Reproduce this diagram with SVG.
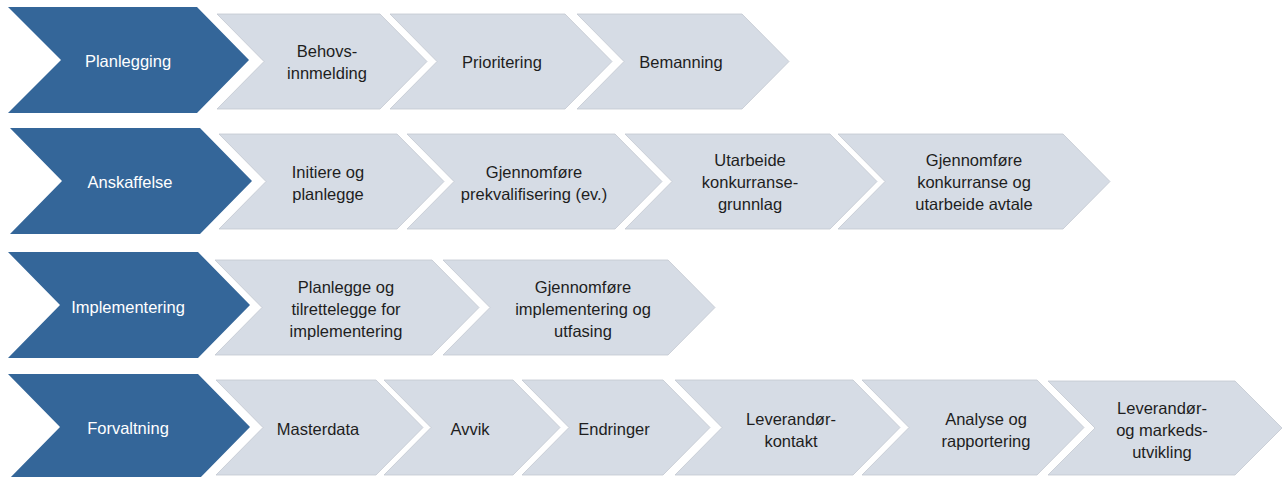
<svg xmlns="http://www.w3.org/2000/svg" width="1284" height="477" viewBox="0 0 1284 477">
  <style>
    .phase { fill: #346699; }
    .step { fill: #d6dce5; stroke: #c3c8d0; stroke-width: 0.8; }
    text { font-family: "Liberation Sans", Arial, sans-serif; font-size: 16.5px; text-anchor: middle; dominant-baseline: central; }
    .phase-label { fill: #ffffff; }
    .step-label { fill: #1e1e1e; }
  </style>
  <rect width="1284" height="477" fill="#ffffff"/>

  <!-- Row 1: Planlegging -->
  <g id="planlegging">
    <polygon class="phase" points="8,7 197,7 249,60 197,113 8,113 61,60"/>
    <text class="phase-label" x="128" y="61">Planlegging</text>
  </g>
  <g id="behovsinnmelding">
    <polygon class="step" points="217,14 380,14 427,61.5 380,109 217,109 264,61.5"/>
    <text class="step-label" x="327" y="51">Behovs-</text>
    <text class="step-label" x="327" y="73">innmelding</text>
  </g>
  <g id="prioritering">
    <polygon class="step" points="390,14 565,14 612,61.5 565,109 390,109 437,61.5"/>
    <text class="step-label" x="502" y="62">Prioritering</text>
  </g>
  <g id="bemanning">
    <polygon class="step" points="577,14 742,14 789,61.5 742,109 577,109 624,61.5"/>
    <text class="step-label" x="681" y="62">Bemanning</text>
  </g>

  <!-- Row 2: Anskaffelse -->
  <g id="anskaffelse">
    <polygon class="phase" points="10,128 200,128 252,181 200,234 10,234 62,181"/>
    <text class="phase-label" x="130" y="182">Anskaffelse</text>
  </g>
  <g id="initiere">
    <polygon class="step" points="219,134 397,134 444,181.5 397,229 219,229 266,181.5"/>
    <text class="step-label" x="328" y="172">Initiere og</text>
    <text class="step-label" x="328" y="194">planlegge</text>
  </g>
  <g id="prekvalifisering">
    <polygon class="step" points="407,134 615,134 662,181.5 615,229 407,229 454,181.5"/>
    <text class="step-label" x="534" y="172">Gjennomføre</text>
    <text class="step-label" x="534" y="194">prekvalifisering (ev.)</text>
  </g>
  <g id="konkurransegrunnlag">
    <polygon class="step" points="625,134 830,134 877,181.5 830,229 625,229 672,181.5"/>
    <text class="step-label" x="750" y="160">Utarbeide</text>
    <text class="step-label" x="750" y="182">konkurranse-</text>
    <text class="step-label" x="750" y="204">grunnlag</text>
  </g>
  <g id="konkurranse-avtale">
    <polygon class="step" points="838,134 1063,134 1110,181.5 1063,229 838,229 885,181.5"/>
    <text class="step-label" x="974" y="160">Gjennomføre</text>
    <text class="step-label" x="974" y="182">konkurranse og</text>
    <text class="step-label" x="974" y="204">utarbeide avtale</text>
  </g>

  <!-- Row 3: Implementering -->
  <g id="implementering">
    <polygon class="phase" points="8,252 198,252 250,305 198,358 8,358 60,305"/>
    <text class="phase-label" x="128" y="307">Implementering</text>
  </g>
  <g id="tilrettelegge">
    <polygon class="step" points="215,260 432,260 479,307.5 432,355 215,355 262,307.5"/>
    <text class="step-label" x="346" y="287">Planlegge og</text>
    <text class="step-label" x="346" y="309">tilrettelegge for</text>
    <text class="step-label" x="346" y="331">implementering</text>
  </g>
  <g id="utfasing">
    <polygon class="step" points="443,260 668,260 715,307.5 668,355 443,355 490,307.5"/>
    <text class="step-label" x="583" y="287">Gjennomføre</text>
    <text class="step-label" x="583" y="309">implementering og</text>
    <text class="step-label" x="583" y="331">utfasing</text>
  </g>

  <!-- Row 4: Forvaltning -->
  <g id="forvaltning">
    <polygon class="phase" points="8,374 198,374 250,427 198,480 8,480 60,427"/>
    <text class="phase-label" x="128" y="428">Forvaltning</text>
  </g>
  <g id="masterdata">
    <polygon class="step" points="216,380 376,380 423,427.5 376,475 216,475 263,427.5"/>
    <text class="step-label" x="318" y="429">Masterdata</text>
  </g>
  <g id="avvik">
    <polygon class="step" points="384,380 513,380 560,427.5 513,475 384,475 431,427.5"/>
    <text class="step-label" x="470" y="429">Avvik</text>
  </g>
  <g id="endringer">
    <polygon class="step" points="522,380 663,380 710,427.5 663,475 522,475 569,427.5"/>
    <text class="step-label" x="614" y="429">Endringer</text>
  </g>
  <g id="leverandorkontakt">
    <polygon class="step" points="675,380 853,380 900,427.5 853,475 675,475 722,427.5"/>
    <text class="step-label" x="791" y="419">Leverandør-</text>
    <text class="step-label" x="791" y="441">kontakt</text>
  </g>
  <g id="analyse">
    <polygon class="step" points="862,380 1037,380 1084,427.5 1037,475 862,475 909,427.5"/>
    <text class="step-label" x="986" y="419">Analyse og</text>
    <text class="step-label" x="986" y="441">rapportering</text>
  </g>
  <g id="markedsutvikling">
    <polygon class="step" points="1048,381 1235,381 1282,428 1235,475 1048,475 1095,428"/>
    <text class="step-label" x="1162" y="408">Leverandør-</text>
    <text class="step-label" x="1162" y="430">og markeds-</text>
    <text class="step-label" x="1162" y="452">utvikling</text>
  </g>

  <!-- no connectors: the chevrons abut each other -->
  <g id="connectors"/>
</svg>
